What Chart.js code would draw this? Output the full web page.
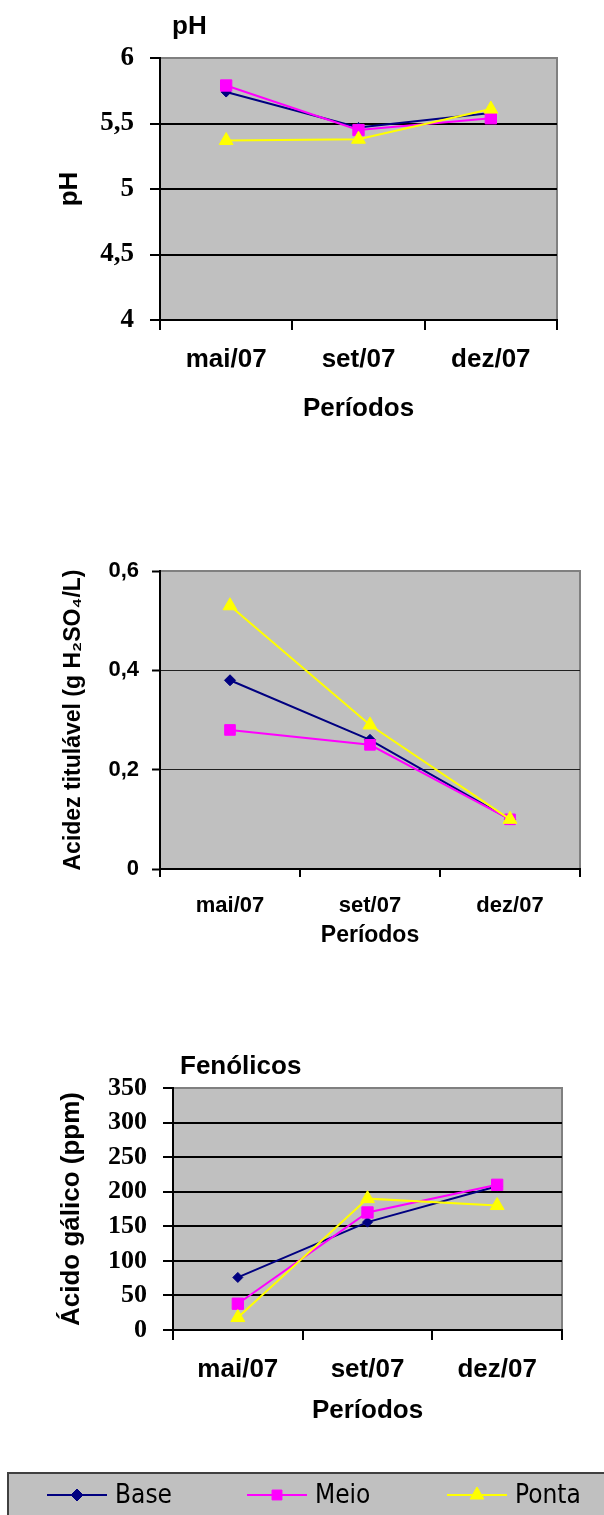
<!DOCTYPE html>
<html>
<head>
<meta charset="utf-8">
<script src="https://cdn.jsdelivr.net/npm/chart.js@4.4.1/dist/chart.umd.min.js"></script>
<style>
  html, body { margin: 0; padding: 0; background: #fff; }
  body { width: 604px; height: 1515px; position: relative; overflow: hidden; }
  .box { position: absolute; left: 0; width: 604px; }
</style>
</head>
<body>
<div class="box" style="top:0;height:440px"><canvas id="phChart"></canvas></div>
<div class="box" style="top:540px;height:420px"><canvas id="acidChart"></canvas></div>
<div class="box" style="top:1030px;height:400px"><canvas id="fenChart"></canvas></div>
<div class="box" style="top:1460px;height:55px"><canvas id="legendChart"></canvas></div>
<script>
const periodos = ['mai/07', 'set/07', 'dez/07'];
const series = ['Base', 'Meio', 'Ponta'];
const colors = ['#000080', '#ff00ff', '#ffff00'];
const markers = ['rectRot', 'rect', 'triangle'];

// pH
const phBase = [5.74, 5.47, 5.58];
const phMeio = [5.79, 5.45, 5.54];
const phPonta = [5.37, 5.38, 5.61];
const phTicks = [4, 4.5, 5, 5.5, 6];

// acidez titulável
const acBase = [0.38, 0.26, 0.1];
const acMeio = [0.28, 0.25, 0.1];
const acPonta = [0.53, 0.29, 0.1];
const acTicks = [0, 0.2, 0.4, 0.6];

// fenólicos
const feBase = [76, 156, 208];
const feMeio = [38, 170, 210];
const fePonta = [18, 190, 180];
const feTicks = [0, 50, 100, 150, 200, 250, 300, 350];

const serif = '"Liberation Serif", "Times New Roman", serif';
const narrow = '"Liberation Sans Narrow", "Liberation Sans", Arial, sans-serif';
const arial = '"Liberation Sans", Arial, sans-serif';

const plotBg = {
  id: 'plotBg',
  beforeDraw(chart) {
    const { ctx, chartArea: a } = chart;
    ctx.save();
    ctx.fillStyle = '#c0c0c0';
    ctx.fillRect(a.left, a.top, a.width, a.height);
    ctx.strokeStyle = '#808080';
    ctx.lineWidth = 2;
    ctx.strokeRect(a.left, a.top, a.width, a.height);
    ctx.restore();
  }
};

const chartTitle = {
  id: 'chartTitle',
  afterDraw(chart, args, o) {
    if (!o.text) return;
    const { ctx, chartArea } = chart;
    ctx.save();
    ctx.font = o.font;
    ctx.fillStyle = '#000';
    ctx.textBaseline = 'middle';
    ctx.fillText(o.text, chartArea.left + o.dx, chartArea.top - o.dy);
    ctx.restore();
  }
};

function datasets(values, sizes) {
  return series.map((name, i) => ({
    label: name,
    data: values[i],
    borderColor: colors[i],
    backgroundColor: colors[i],
    pointStyle: markers[i],
    pointRadius: sizes[i],
    pointHoverRadius: sizes[i],
    pointBorderWidth: 1,
    borderWidth: 2,
    order: 3 - i,
    tension: 0
  }));
}

function scales(o) {
  const top = o.ticks[o.ticks.length - 1];
  return {
    x: {
      offset: true,
      grid: { offset: true, drawOnChartArea: false, drawTicks: true, tickLength: o.tick,
              color: '#000', tickColor: '#000', tickWidth: 2, lineWidth: 2 },
      border: { display: true, color: '#000', width: 2 },
      ticks: { color: '#000', font: o.xFont, padding: o.xPad, maxRotation: 0, autoSkip: false },
      title: { display: true, text: 'Períodos', color: '#000', font: o.titleFont,
               padding: { top: 0, bottom: o.xTitlePad } },
      afterFit: s => { s.height = o.xHeight; }
    },
    y: {
      min: o.ticks[0],
      max: top,
      ticks: { stepSize: o.ticks[1] - o.ticks[0], color: '#000', font: o.yFont, padding: o.yPad,
               callback: v => v.toLocaleString('pt-BR', { maximumFractionDigits: 2 }) },
      grid: { color: c => (Math.abs(c.tick.value - top) < 1e-9 ? 'rgba(0,0,0,0)' : o.gridColor),
              lineWidth: o.gridWidth, drawTicks: true, tickLength: o.tick, tickColor: '#000', tickWidth: 2 },
      border: { display: true, color: '#000', width: 2 },
      title: { display: true, text: o.yTitle, color: '#000', font: o.yTitleFont || o.titleFont,
               padding: { top: o.yTitlePad, bottom: 0 } },
      afterFit: s => { s.width = o.yWidth; }
    }
  };
}

function baseOptions(padding, sc, title) {
  return {
    responsive: true,
    maintainAspectRatio: false,
    animation: false,
    layout: { padding },
    plugins: { legend: { display: false }, tooltip: { enabled: false }, chartTitle: title },
    scales: sc
  };
}

new Chart(document.getElementById('phChart'), {
  type: 'line',
  data: { labels: periodos, datasets: datasets([phBase, phMeio, phPonta], [5, 8, 8]) },
  options: baseOptions({ top: 58, right: 47, left: 0, bottom: 0 }, scales({
    ticks: phTicks, tick: 10, yWidth: 160, xHeight: 120,
    yFont: { family: serif, size: 27, weight: 'bold' },
    xFont: { family: narrow, size: 26, weight: 'bold' },
    titleFont: { family: narrow, size: 26, weight: 'bold' },
    xPad: 14, xTitlePad: 16, yPad: 16, yTitle: 'pH', yTitlePad: 54,
    gridColor: '#000', gridWidth: 2
  }), { text: 'pH', font: 'bold 26px ' + narrow, dx: 12, dy: 31 }),
  plugins: [plotBg, chartTitle]
});

new Chart(document.getElementById('acidChart'), {
  type: 'line',
  data: { labels: periodos, datasets: datasets([acBase, acMeio, acPonta], [5.5, 7.5, 8]) },
  options: baseOptions({ top: 31, right: 24, left: 0, bottom: 0 }, scales({
    ticks: acTicks, tick: 8, yWidth: 160, xHeight: 91,
    yFont: { family: arial, size: 22, weight: 'bold' },
    xFont: { family: arial, size: 22, weight: 'bold' },
    titleFont: { family: arial, size: 23, weight: 'bold' },
    xPad: 16, xTitlePad: 11, yPad: 13, yTitle: 'Acidez titulável (g H₂SO₄/L)', yTitlePad: 60,
    gridColor: '#202020', gridWidth: 1
  }), {}),
  plugins: [plotBg, chartTitle]
});

new Chart(document.getElementById('fenChart'), {
  type: 'line',
  data: { labels: periodos, datasets: datasets([feBase, feMeio, fePonta], [5, 8, 8]) },
  options: baseOptions({ top: 58, right: 42, left: 0, bottom: 0 }, scales({
    ticks: feTicks, tick: 10, yWidth: 173, xHeight: 100,
    yFont: { family: serif, size: 26, weight: 'bold' },
    xFont: { family: narrow, size: 26, weight: 'bold' },
    titleFont: { family: narrow, size: 26, weight: 'bold' },
    xPad: 14, xTitlePad: 4, yPad: 16, yTitle: 'Ácido gálico (ppm)', yTitlePad: 56,
    gridColor: '#000', gridWidth: 2
  }), { text: 'Fenólicos', font: 'bold 26px ' + narrow, dx: 7, dy: 21 }),
  plugins: [plotBg, chartTitle]
});

const boxLegend = {
  id: 'boxLegend',
  afterDraw(chart, args, o) {
    const ctx = chart.ctx;
    ctx.save();
    ctx.fillStyle = '#c0c0c0';
    ctx.fillRect(o.x, o.y, o.w, o.h);
    ctx.strokeStyle = '#404040';
    ctx.lineWidth = 2;
    ctx.strokeRect(o.x, o.y, o.w, o.h);
    chart.data.datasets.forEach((ds, i) => {
      const x0 = o.startX + i * o.step;
      ctx.strokeStyle = ds.borderColor;
      ctx.lineWidth = 2;
      ctx.beginPath();
      ctx.moveTo(x0, o.cy);
      ctx.lineTo(x0 + o.lineLen, o.cy);
      ctx.stroke();
      ctx.fillStyle = ds.backgroundColor;
      ctx.lineWidth = 1;
      Chart.helpers.drawPoint(ctx, { pointStyle: ds.pointStyle, radius: ds.pointRadius, borderWidth: 1, rotation: 0 },
        x0 + o.lineLen / 2, o.cy);
      ctx.fillStyle = '#000';
      ctx.font = o.font;
      ctx.textBaseline = 'middle';
      ctx.fillText(ds.label, x0 + o.lineLen + o.gap, o.cy + 1);
    });
    ctx.restore();
  }
};

new Chart(document.getElementById('legendChart'), {
  type: 'line',
  data: { labels: [], datasets: datasets([[], [], []], [6, 7, 8]) },
  options: {
    responsive: true,
    maintainAspectRatio: false,
    animation: false,
    scales: { x: { display: false }, y: { display: false } },
    plugins: {
      legend: { display: false },
      tooltip: { enabled: false },
      boxLegend: { x: 8, y: 13, w: 620, h: 60, startX: 47, step: 200, lineLen: 60, gap: 8, cy: 35,
                   font: '26px "DejaVu Sans Condensed", "Liberation Sans Narrow", sans-serif' }
    }
  },
  plugins: [boxLegend]
});
</script>
</body>
</html>
